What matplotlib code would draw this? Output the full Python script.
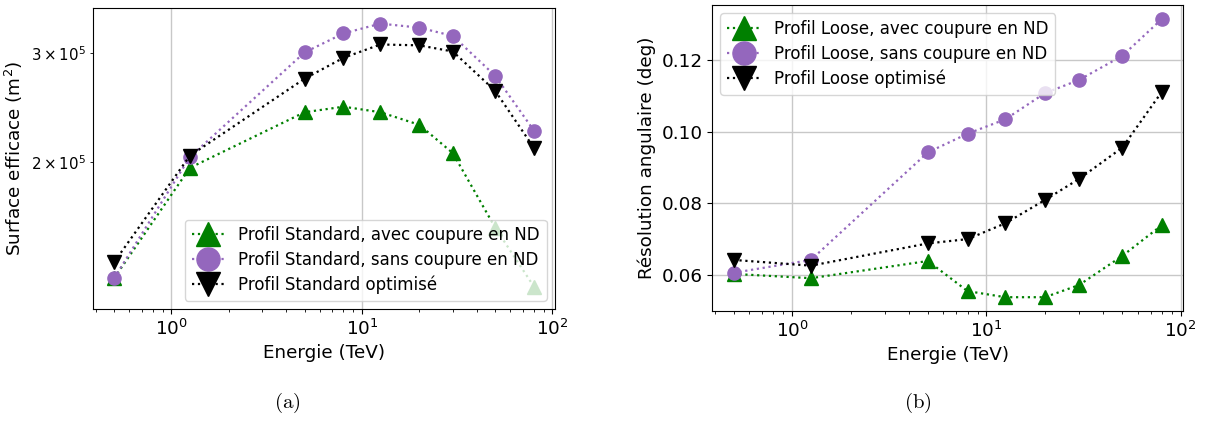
import matplotlib
matplotlib.use("Agg")
import matplotlib.pyplot as plt

energy = [0.5, 1.25, 5, 8, 12.5, 20, 30, 50, 80]

# (a) Surface efficace (m^2)
area_avec = [1.30e5, 1.96e5, 2.41e5, 2.46e5, 2.41e5, 2.30e5, 2.07e5, 1.57e5, 1.26e5]
area_sans = [1.30e5, 2.04e5, 3.01e5, 3.23e5, 3.35e5, 3.30e5, 3.20e5, 2.76e5, 2.25e5]
area_opt = [1.38e5, 2.05e5, 2.73e5, 2.95e5, 3.10e5, 3.09e5, 3.02e5, 2.61e5, 2.11e5]

# (b) Resolution angulaire (deg)
res_avec = [0.0603, 0.0591, 0.0639, 0.0555, 0.0538, 0.0538, 0.0572, 0.0653, 0.0739]
res_sans = [0.0606, 0.0642, 0.0942, 0.0994, 0.1034, 0.1107, 0.1144, 0.1211, 0.1314]
res_opt = [0.0642, 0.0626, 0.0688, 0.0700, 0.0744, 0.0809, 0.0868, 0.0955, 0.1111]

labels_a = ["Profil Standard, avec coupure en ND",
            "Profil Standard, sans coupure en ND",
            "Profil Standard optimisé"]
labels_b = ["Profil Loose, avec coupure en ND",
            "Profil Loose, sans coupure en ND",
            "Profil Loose optimisé"]

plt.rcParams['font.family'] = ['DejaVu Sans']
plt.rcParams['mathtext.fontset'] = 'dejavusans'

FS = 13.2
fig = plt.figure(figsize=(12.05, 4.21), dpi=100)
ax1 = fig.add_axes([0.0772, 0.266, 0.3834, 0.715])
ax2 = fig.add_axes([0.591, 0.261, 0.391, 0.727])

styles = [dict(color='green', marker='^'),
          dict(color='#9467bd', marker='o'),
          dict(color='black', marker='v')]

for ax, series, labels, loc in [
        (ax1, [area_avec, area_sans, area_opt], labels_a, 'lower right'),
        (ax2, [res_avec, res_sans, res_opt], labels_b, 'upper left')]:
    for s, lab, st in zip(series, labels, styles):
        ax.plot(energy, s, linestyle=':', linewidth=1.6, markersize=9.5,
                label=lab, **st)
    ax.set_xscale('log')
    ax.grid(True, color='#c8c8c8', linewidth=1.0)
    ax.set_axisbelow(True)
    ax.set_xlabel('Energie (TeV)', fontsize=FS)
    ax.tick_params(labelsize=FS)
    leg = ax.legend(loc=loc, fontsize=12, markerscale=1.75, framealpha=0.8,
                    handlelength=2.0, borderpad=0.4, labelspacing=0.4)

ax1.set_yscale('log')
ax1.set_ylim(1.16e5, 3.55e5)
ax1.set_ylabel('Surface efficace (m$^2$)', fontsize=FS)
ax1.tick_params(which='minor', labelsize=10.8)
ax2.set_ylabel('Résolution angulaire (deg)', fontsize=FS)
ax2.set_yticks([0.06, 0.08, 0.10, 0.12])

fig.text(0.238, 0.043, r'$\mathrm{(a)}$', fontsize=15, ha='center', va='center',
         math_fontfamily='cm')
fig.text(0.762, 0.043, r'$\mathrm{(b)}$', fontsize=15, ha='center', va='center',
         math_fontfamily='cm')

fig.savefig('out.png', dpi=100)
